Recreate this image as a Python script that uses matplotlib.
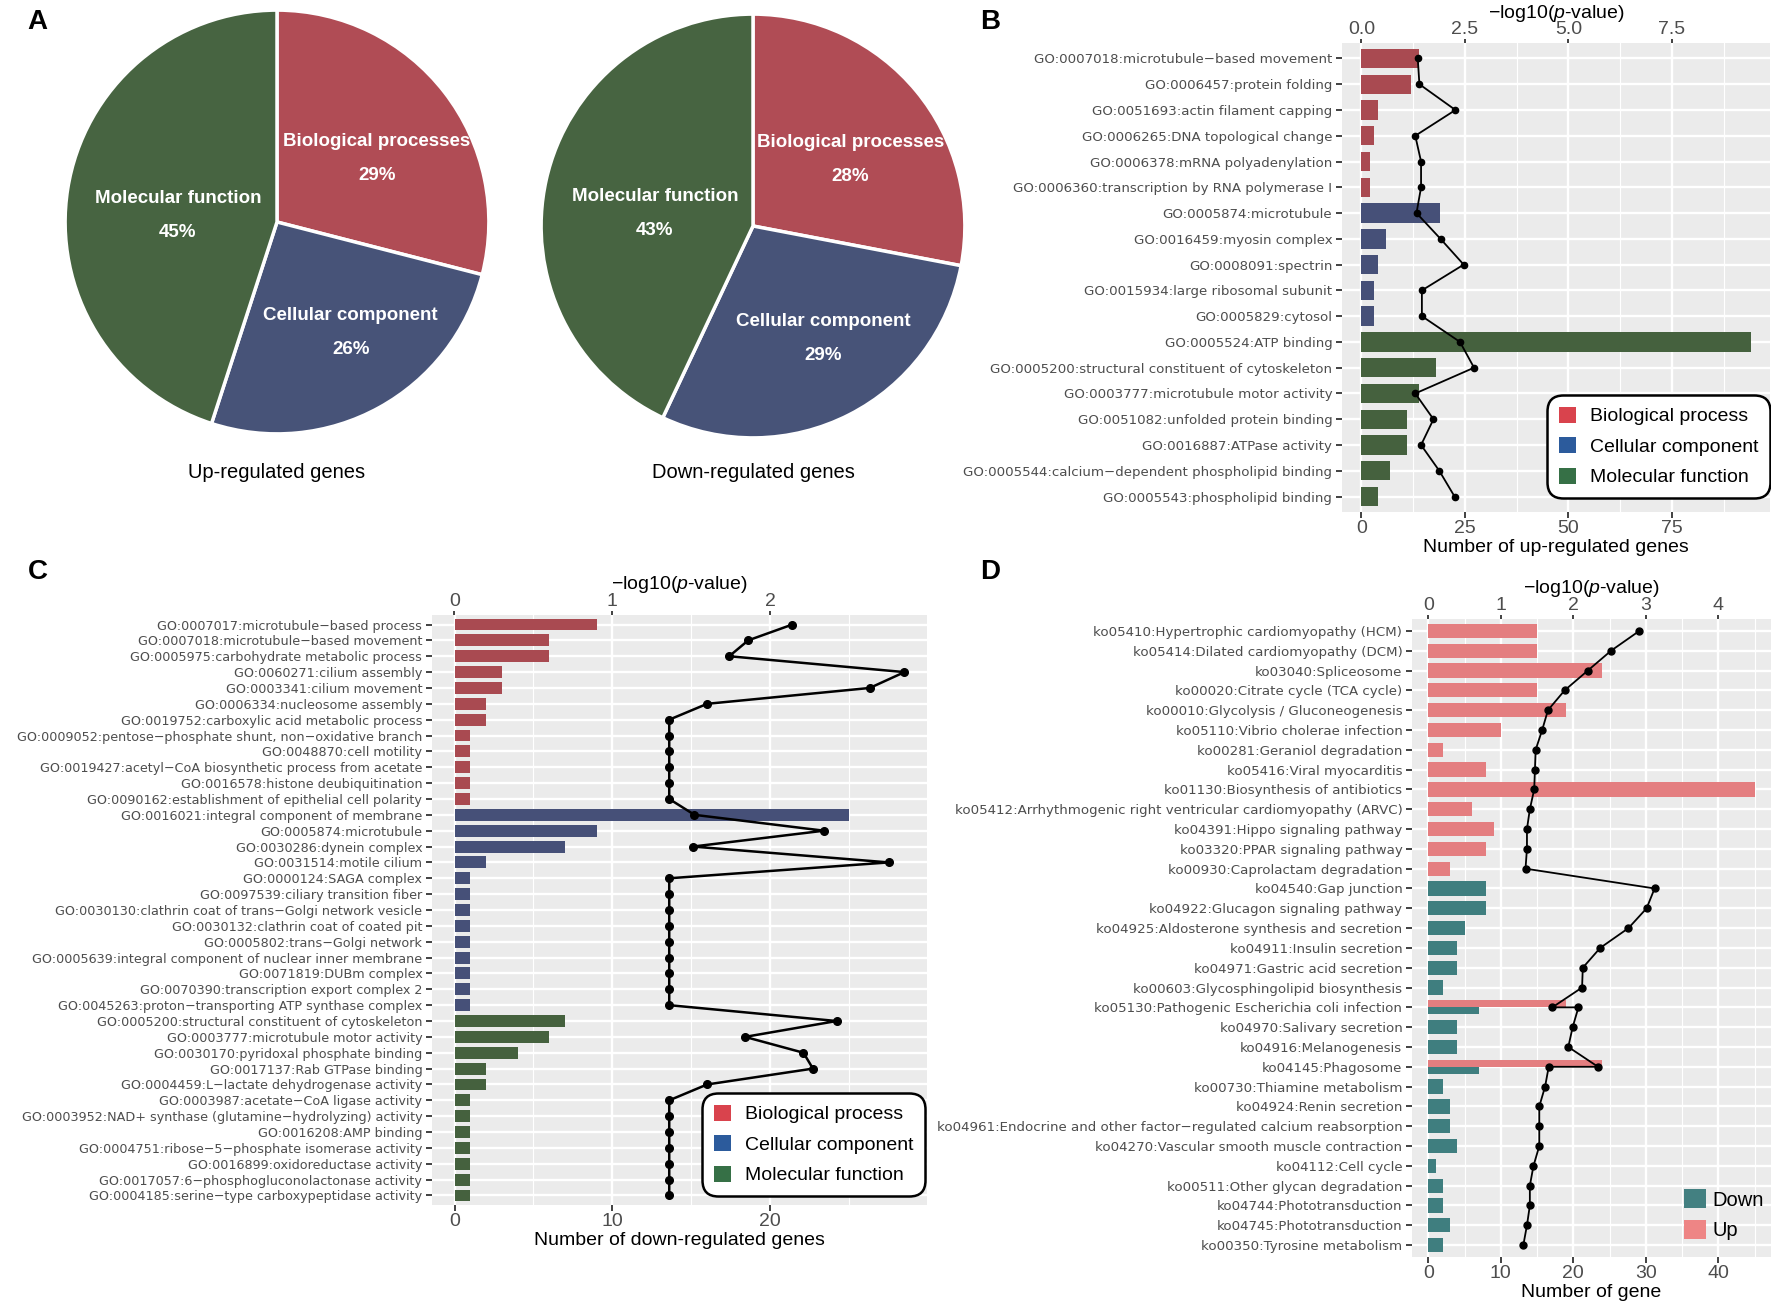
import numpy as np
import matplotlib.pyplot as plt
from matplotlib import font_manager
from matplotlib.patches import Patch
from matplotlib.ticker import MultipleLocator, FormatStrFormatter

fonts = {f.name for f in font_manager.fontManager.ttflist}
SANS = 'Liberation Sans' if 'Liberation Sans' in fonts else 'DejaVu Sans'
plt.rcParams['font.family'] = [SANS, 'DejaVu Sans']
plt.rcParams['mathtext.fontset'] = 'custom'
plt.rcParams['mathtext.rm'] = SANS
plt.rcParams['mathtext.it'] = SANS + ':italic'

# %% data
pie_names = ['Biological processes', 'Cellular component', 'Molecular function']
pie_up = [29, 26, 45]
pie_down = [28, 29, 43]

b_terms = ['GO:0007018:microtubule−based movement', 'GO:0006457:protein folding',
           'GO:0051693:actin filament capping', 'GO:0006265:DNA topological change',
           'GO:0006378:mRNA polyadenylation', 'GO:0006360:transcription by RNA polymerase I',
           'GO:0005874:microtubule', 'GO:0016459:myosin complex', 'GO:0008091:spectrin',
           'GO:0015934:large ribosomal subunit', 'GO:0005829:cytosol', 'GO:0005524:ATP binding',
           'GO:0005200:structural constituent of cytoskeleton',
           'GO:0003777:microtubule motor activity', 'GO:0051082:unfolded protein binding',
           'GO:0016887:ATPase activity', 'GO:0005544:calcium−dependent phospholipid binding',
           'GO:0005543:phospholipid binding']
b_class = ['BP'] * 6 + ['CC'] * 5 + ['MF'] * 7
b_genes = [14, 12, 4, 3, 2, 2, 19, 6, 4, 3, 3, 94, 18, 14, 11, 11, 7, 4]
b_logp = [1.36, 1.40, 2.27, 1.30, 1.44, 1.44, 1.33, 1.91, 2.47, 1.46, 1.46, 2.38,
          2.72, 1.30, 1.74, 1.44, 1.88, 2.25]

c_terms = ['GO:0007017:microtubule−based process', 'GO:0007018:microtubule−based movement',
           'GO:0005975:carbohydrate metabolic process', 'GO:0060271:cilium assembly',
           'GO:0003341:cilium movement', 'GO:0006334:nucleosome assembly',
           'GO:0019752:carboxylic acid metabolic process',
           'GO:0009052:pentose−phosphate shunt, non−oxidative branch',
           'GO:0048870:cell motility', 'GO:0019427:acetyl−CoA biosynthetic process from acetate',
           'GO:0016578:histone deubiquitination',
           'GO:0090162:establishment of epithelial cell polarity',
           'GO:0016021:integral component of membrane', 'GO:0005874:microtubule',
           'GO:0030286:dynein complex', 'GO:0031514:motile cilium', 'GO:0000124:SAGA complex',
           'GO:0097539:ciliary transition fiber',
           'GO:0030130:clathrin coat of trans−Golgi network vesicle',
           'GO:0030132:clathrin coat of coated pit', 'GO:0005802:trans−Golgi network',
           'GO:0005639:integral component of nuclear inner membrane',
           'GO:0071819:DUBm complex', 'GO:0070390:transcription export complex 2',
           'GO:0045263:proton−transporting ATP synthase complex',
           'GO:0005200:structural constituent of cytoskeleton',
           'GO:0003777:microtubule motor activity', 'GO:0030170:pyridoxal phosphate binding',
           'GO:0017137:Rab GTPase binding', 'GO:0004459:L−lactate dehydrogenase activity',
           'GO:0003987:acetate−CoA ligase activity',
           'GO:0003952:NAD+ synthase (glutamine−hydrolyzing) activity',
           'GO:0016208:AMP binding', 'GO:0004751:ribose−5−phosphate isomerase activity',
           'GO:0016899:oxidoreductase activity', 'GO:0017057:6−phosphogluconolactonase activity',
           'GO:0004185:serine−type carboxypeptidase activity']
c_class = ['BP'] * 12 + ['CC'] * 13 + ['MF'] * 12
c_genes = [9, 6, 6, 3, 3, 2, 2, 1, 1, 1, 1, 1,
           25, 9, 7, 2, 1, 1, 1, 1, 1, 1, 1, 1, 1,
           7, 6, 4, 2, 2, 1, 1, 1, 1, 1, 1, 1]
c_logp = [2.14, 1.86, 1.74, 2.85, 2.63, 1.60, 1.36, 1.36, 1.36, 1.36, 1.36, 1.36,
          1.52, 2.34, 1.51, 2.75, 1.36, 1.36, 1.36, 1.36, 1.36, 1.36, 1.36, 1.36, 1.36,
          2.42, 1.84, 2.21, 2.27, 1.60, 1.36, 1.36, 1.36, 1.36, 1.36, 1.36, 1.36]

d_terms = ['ko05410:Hypertrophic cardiomyopathy (HCM)', 'ko05414:Dilated cardiomyopathy (DCM)',
           'ko03040:Spliceosome', 'ko00020:Citrate cycle (TCA cycle)',
           'ko00010:Glycolysis / Gluconeogenesis', 'ko05110:Vibrio cholerae infection',
           'ko00281:Geraniol degradation', 'ko05416:Viral myocarditis',
           'ko01130:Biosynthesis of antibiotics',
           'ko05412:Arrhythmogenic right ventricular cardiomyopathy (ARVC)',
           'ko04391:Hippo signaling pathway', 'ko03320:PPAR signaling pathway',
           'ko00930:Caprolactam degradation', 'ko04540:Gap junction',
           'ko04922:Glucagon signaling pathway', 'ko04925:Aldosterone synthesis and secretion',
           'ko04911:Insulin secretion', 'ko04971:Gastric acid secretion',
           'ko00603:Glycosphingolipid biosynthesis',
           'ko05130:Pathogenic Escherichia coli infection', 'ko04970:Salivary secretion',
           'ko04916:Melanogenesis', 'ko04145:Phagosome', 'ko00730:Thiamine metabolism',
           'ko04924:Renin secretion',
           'ko04961:Endocrine and other factor−regulated calcium reabsorption',
           'ko04270:Vascular smooth muscle contraction', 'ko04112:Cell cycle',
           'ko00511:Other glycan degradation', 'ko04744:Phototransduction',
           'ko04745:Phototransduction', 'ko00350:Tyrosine metabolism']
d_up_terms = d_terms[:13] + ['ko05130:Pathogenic Escherichia coli infection', 'ko04145:Phagosome']
d_up_genes = [15, 15, 24, 15, 19, 10, 2, 8, 45, 6, 9, 8, 3, 19, 24]
d_up_logp = [2.91, 2.52, 2.20, 1.88, 1.65, 1.57, 1.48, 1.47, 1.46, 1.40, 1.36, 1.36, 1.34,
             1.71, 2.34]
d_down_terms = d_terms[13:]
d_down_genes = [8, 8, 5, 4, 4, 2, 7, 4, 4, 7, 2, 3, 3, 4, 1, 2, 2, 3, 2]
d_down_logp = [3.12, 3.01, 2.76, 2.37, 2.13, 2.12, 2.07, 1.99, 1.93, 1.66, 1.61, 1.53,
               1.53, 1.53, 1.45, 1.40, 1.40, 1.36, 1.31]

# %% styling
pie_cols = ['#B04C55', '#475378', '#476441']
pie_lab_r = [0.57, 0.61, 0.47]        # label radius per slice
pie_lab_turn = [-3.5, 6.0, 3.0]       # small angular nudge (deg)
bar_cols = {'BP': '#A94A51', 'CC': '#465078', 'MF': '#45613E'}
key_cols = {'BP': '#D9434D', 'CC': '#2C5B9C', 'MF': '#367046'}
key_names = {'BP': 'Biological process', 'CC': 'Cellular component', 'MF': 'Molecular function'}
col_up, col_down = '#E47E80', '#3F7E7F'
key_up, key_down = '#EE8585', '#438081'
TOP_TITLE = '$-$log10($p$-value)'

W, H = 1771, 1303
fig = plt.figure(figsize=(W / 100, H / 100), dpi=100)


def px(x0, y0, x1, y1):
    return [x0 / W, 1 - y1 / H, (x1 - x0) / W, (y1 - y0) / H]


def ftext(x, y, s, **kw):
    fig.text(x / W, 1 - y / H, s, **kw)


def gg_axes(rect, labels, xmax, major, minor, top_step, top_fmt, xlabel, lab_size,
            title_pad=3):
    ax = fig.add_axes(px(*rect))
    n = len(labels)
    lo, hi = -0.05 * xmax, 1.05 * xmax
    ax.set_facecolor('#EBEBEB')
    ax.set_xlim(lo, hi)
    ax.set_ylim(n - 0.4, -0.6)
    ax.set_yticks(np.arange(n), labels, fontfamily='DejaVu Sans', fontsize=lab_size)
    ax.set_xticks(np.arange(0, hi, major))
    ax.xaxis.set_minor_locator(MultipleLocator(minor))
    ax.grid(which='major', color='white', lw=1.7)
    ax.grid(which='minor', axis='x', color='white', lw=0.8)
    ax.set_axisbelow(True)
    for s in ax.spines.values():
        s.set_visible(False)
    ax.tick_params(which='major', length=4, width=1.3, color='#333333', pad=3)
    ax.tick_params(axis='x', which='minor', length=0)
    ax.tick_params(axis='x', labelsize=14, labelcolor='#4D4D4D', pad=2)
    ax.tick_params(axis='y', labelcolor='#4D4D4D')
    ax.set_xlabel(xlabel, fontsize=14, labelpad=1)
    sec = ax.secondary_xaxis('top', functions=(lambda v: v / 10, lambda v: v * 10))
    sec.set_xticks(np.arange(0, hi / 10, top_step))
    sec.xaxis.set_major_formatter(FormatStrFormatter(top_fmt))
    sec.tick_params(length=3, width=1.3, color='#333333', labelsize=14,
                    labelcolor='#4D4D4D', pad=0.5)
    for s in sec.spines.values():
        s.set_visible(False)
    sec.set_xlabel(TOP_TITLE, fontsize=14, labelpad=title_pad)
    return ax


def class_legend(ax, anchor):
    handles = [Patch(facecolor=key_cols[k], edgecolor='none', label=key_names[k])
               for k in ['BP', 'CC', 'MF']]
    leg = ax.legend(handles=handles, loc='lower right', bbox_to_anchor=anchor,
                    bbox_transform=fig.transFigure, fontsize=14, frameon=True,
                    fancybox=True, handlelength=0.9, handleheight=0.9,
                    handletextpad=0.7, labelspacing=0.6, borderpad=0.6,
                    borderaxespad=0)
    fr = leg.get_frame()
    fr.set_edgecolor('black')
    fr.set_linewidth(1.8)
    fr.set_alpha(1)
    fr.set_boxstyle('round,pad=0,rounding_size=0.8')
    return leg


# %% A: pies
def draw_pie(rect, pct, title, cx):
    ax = fig.add_axes(px(*rect))
    wedges, _ = ax.pie(pct, colors=pie_cols, startangle=90, counterclock=False,
                       wedgeprops=dict(edgecolor='white', linewidth=2.5))
    for w, name, p, r, turn in zip(wedges, pie_names, pct, pie_lab_r, pie_lab_turn):
        ang = np.deg2rad((w.theta1 + w.theta2) / 2 + turn)
        x, y = r * np.cos(ang), r * np.sin(ang) - 0.02
        ax.text(x, y + 0.08, name, color='white', fontweight='bold', fontsize=13.5,
                ha='center', va='center')
        ax.text(x, y - 0.08, f'{p}%', color='white', fontweight='bold', fontsize=13.5,
                ha='center', va='center')
    ax.set_xlim(-1.01, 1.01)
    ax.set_ylim(-1.01, 1.01)
    ftext(cx, 473, title, fontsize=14.5, ha='center', va='center')


draw_pie((62, 8, 492, 436), pie_up, 'Up-regulated genes', 277)
draw_pie((538, 12, 968, 440), pie_down, 'Down-regulated genes', 753)

# %% B
yb = np.arange(len(b_terms))
axb = gg_axes((1342, 43, 1770, 512), b_terms, max(b_genes), 25, 12.5, 2.5, '%.1f',
              'Number of up-regulated genes', 9.6, title_pad=2)
axb.barh(yb, b_genes, height=0.75, color=[bar_cols[c] for c in b_class])
axb.plot(np.array(b_logp) * 10, yb, color='black', lw=1.3, marker='o', ms=4.5, zorder=3)
class_legend(axb, (1770 / W, 1 - 498 / H))

# %% C
yc = np.arange(len(c_terms))
c_max = max(max(c_genes), max(c_logp) * 10)
axc = gg_axes((432, 615, 927, 1205), c_terms, c_max, 10, 5, 1, '%d',
              'Number of down-regulated genes', 9.2)
axc.barh(yc, c_genes, height=0.75, color=[bar_cols[c] for c in c_class])
axc.plot(np.array(c_logp) * 10, yc, color='black', lw=1.8, marker='o', ms=5.5, zorder=3)
class_legend(axc, (925 / W, 1 - 1196 / H))

# %% D
row = {t: i for i, t in enumerate(d_terms)}
both = set(d_up_terms) & set(d_down_terms)


def dodge(terms, sign):
    y = np.array([row[t] for t in terms], dtype=float)
    h = np.full(len(terms), 0.72)
    for k, t in enumerate(terms):
        if t in both:
            y[k] += sign * 0.18
            h[k] = 0.36
    return y, h


axd = gg_axes((1412, 619, 1771, 1257), d_terms, max(d_up_genes + d_down_genes), 10, 5, 1,
              '%d', 'Number of gene', 9.6)
yu, hu = dodge(d_up_terms, -1)
yd, hd = dodge(d_down_terms, 1)
axd.barh(yu, d_up_genes, height=hu, color=col_up)
axd.barh(yd, d_down_genes, height=hd, color=col_down)
pts_y = np.array([row[t] for t in d_up_terms] + [row[t] for t in d_down_terms])
pts_x = np.array(d_up_logp + d_down_logp) * 10
order = np.argsort(pts_y, kind='stable')
axd.plot(pts_x[order], pts_y[order], color='black', lw=1.3, marker='o', ms=5, zorder=3)
axd.legend(handles=[Patch(facecolor=key_down, label='Down'), Patch(facecolor=key_up, label='Up')],
           loc='upper left', bbox_to_anchor=(1684 / W, 1 - 1189 / H),
           bbox_transform=fig.transFigure, frameon=False, fontsize=14.5,
           handlelength=1.1, handleheight=1.1, handletextpad=0.3, labelspacing=0.5,
           borderaxespad=0, borderpad=0)

# %% panel letters
for lab, x, y in [('A', 37, 22), ('B', 990, 22), ('C', 38, 572), ('D', 990, 572)]:
    ftext(x, y, lab, fontsize=20, fontweight='bold', ha='center', va='center')

fig.savefig('out.png', dpi=100)
